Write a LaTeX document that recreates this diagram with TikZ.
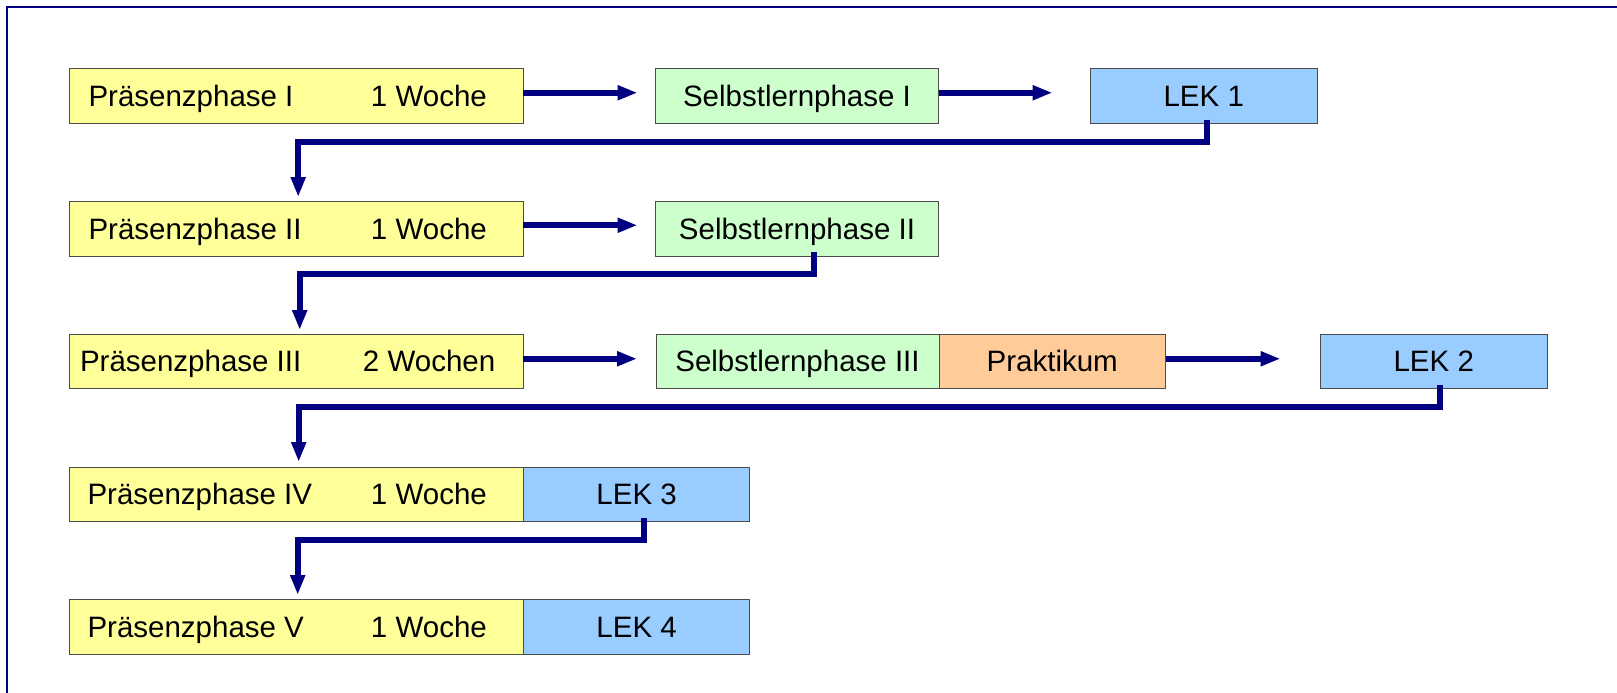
\documentclass[tikz,border=0pt]{standalone}
\usepackage{fontspec}
\setmainfont{Liberation Sans}
\usetikzlibrary{arrows.meta}
\definecolor{navyline}{RGB}{0,0,128}
\definecolor{yelfill}{RGB}{255,255,153}
\definecolor{grnfill}{RGB}{204,255,204}
\definecolor{blufill}{RGB}{153,204,255}
\definecolor{orgfill}{RGB}{255,204,153}
\tikzset{
  x=1pt, y=-1pt,
  basebox/.style={draw=black!70, line width=1pt, anchor=north west, inner sep=0pt, outer sep=0pt,
    minimum height=54.5pt, text height=25.9pt, text depth=5pt,
    font=\fontsize{29.5}{35}\selectfont},
  ybox/.style={basebox, fill=yelfill, minimum width=454.4pt},
  gbox/.style={basebox, fill=grnfill, minimum width=283pt},
  bbox/.style={basebox, fill=blufill, minimum width=226.5pt},
  obox/.style={basebox, fill=orgfill, minimum width=226.5pt},
  conn/.style={draw=navyline, line width=6pt, line join=miter, -{Triangle[length=20pt,width=14pt]}},
  elbow/.style={draw=navyline, line width=6pt, line join=miter, -{Triangle[length=20pt,width=14pt]}},
  frameline/.style={draw=navyline, line width=2pt}
}
\newcommand{\ytext}[4]{\makebox[454.4pt][l]{\hspace*{#1pt}\rlap{#2}\hspace*{#3pt}#4}}
\begin{document}
\begin{tikzpicture}
\useasboundingbox (0,0) rectangle (1617,693);
\draw[frameline] (6.5,693) -- (6.5,7.3) -- (1617,7.3);

% row 1
\node[ybox] (p1) at (69,69) {\ytext{19.5}{Präsenzphase I}{282.5}{1 Woche}};
\node[gbox] (s1) at (655.5,69) {Selbstlernphase I};
\node[bbox] (l1) at (1090.5,69) {LEK 1};
% row 2
\node[ybox] (p2) at (69,201.5) {\ytext{19.5}{Präsenzphase II}{282.5}{1 Woche}};
\node[gbox] (s2) at (655.5,201.5) {Selbstlernphase II};
% row 3
\node[ybox] (p3) at (69,334) {\ytext{11}{Präsenzphase III}{283}{2 Wochen}};
\node[gbox] (s3) at (656,334) {Selbstlernphase III};
\node[obox] (pr) at (s3.north east) {Praktikum};
\node[bbox] (l2) at (1320.5,334) {LEK 2};
% row 4
\node[ybox] (p4) at (69,467) {\ytext{18.5}{Präsenzphase IV}{283.5}{1 Woche}};
\node[bbox] (l3) at (p4.north east) {LEK 3};
% row 5
\node[ybox] (p5) at (69,599.5) {\ytext{18.5}{Präsenzphase V}{283.5}{1 Woche}};
\node[bbox] (l4) at (p5.north east) {LEK 4};

% horizontal arrows
\draw[conn] ([yshift=3.5pt]p1.east) -- ([xshift=-18pt,yshift=3.5pt]s1.west);
\draw[conn] ([yshift=3.5pt]s1.east) -- ([xshift=-38pt,yshift=3.5pt]l1.west);
\draw[conn] ([yshift=3.5pt]p2.east) -- ([xshift=-18pt,yshift=3.5pt]s2.west);
\draw[conn] ([yshift=2.5pt]p3.east) -- ([xshift=-19pt,yshift=2.5pt]s3.west);
\draw[conn] ([yshift=2.5pt]pr.east) -- ([xshift=-40pt,yshift=2.5pt]l2.west);

% elbow connectors
\draw[elbow] ([xshift=3.5pt,yshift=4pt]l1.south) -- ++(0,22) -| ([xshift=2pt,yshift=4.5pt]p2.north);
\draw[elbow] ([xshift=17pt,yshift=4pt]s2.south) -- ++(0,22) -| ([xshift=3.5pt,yshift=4pt]p3.north);
\draw[elbow] ([xshift=6.3pt,yshift=4pt]l2.south) -- ++(0,22) -| ([xshift=2.5pt,yshift=5pt]p4.north);
\draw[elbow] ([xshift=7.5pt,yshift=4pt]l3.south) -- ++(0,22) -| ([xshift=1.5pt,yshift=4.5pt]p5.north);
\end{tikzpicture}
\end{document}
